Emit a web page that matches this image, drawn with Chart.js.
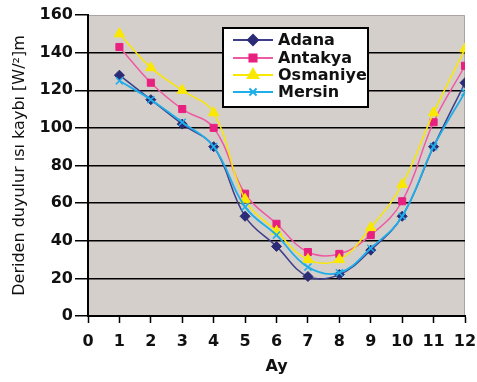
<!DOCTYPE html>
<html>
<head>
<meta charset="utf-8">
<script src="https://cdn.jsdelivr.net/npm/chart.js@4.4.0/dist/chart.umd.min.js"></script>
<style>
  html, body { margin: 0; padding: 0; background: #fff; }
  #wrap { width: 477px; height: 382px; }
</style>
</head>
<body>
<div id="wrap"><canvas id="myChart" width="477" height="382"></canvas></div>
<script>
// months and values
var months = [1, 2, 3, 4, 5, 6, 7, 8, 9, 10, 11, 12];
var adana    = [128, 115, 102, 90, 53, 37, 21, 22, 35, 53, 90, 124];
var antakya  = [143, 124, 110, 100, 65, 49, 34, 33, 43, 61, 103, 133];
var osmaniye = [150, 132, 120, 108, 62, 45, 30, 30, 47, 70, 108, 142];
var mersin   = [125, 115, 103, 90, 58, 43, 26, 23, 36, 53, 90, 119];
var seriesNames = ['Adana', 'Antakya', 'Osmaniye', 'Mersin'];

function pts(arr) {
  return months.map(function (m, i) { return {x: m, y: arr[i]}; });
}

var FONT = "'DejaVu Sans', sans-serif";

// grey plot background + light top/right border
var plotBg = {
  id: 'plotBg',
  beforeDraw: function (chart) {
    var a = chart.chartArea, ctx = chart.ctx;
    ctx.save();
    ctx.fillStyle = '#d5cfcc';
    ctx.fillRect(a.left, a.top, a.right - a.left, a.bottom - a.top);
    ctx.strokeStyle = '#a9a4a2';
    ctx.lineWidth = 1;
    ctx.beginPath();
    ctx.moveTo(a.left, a.top + 0.5);
    ctx.lineTo(a.right - 0.5, a.top + 0.5);
    ctx.lineTo(a.right - 0.5, a.bottom);
    ctx.stroke();
    ctx.restore();
  }
};

// boxed legend inside the plot
var boxLegend = {
  id: 'boxLegend',
  afterDraw: function (chart) {
    var ctx = chart.ctx;
    var bx = 223, by = 28, bw = 145, bh = 79;
    ctx.save();
    ctx.fillStyle = '#fff';
    ctx.fillRect(bx, by, bw, bh);
    ctx.strokeStyle = '#000';
    ctx.lineWidth = 2;
    ctx.strokeRect(bx, by, bw, bh);
    var rows = [40, 58, 75, 92];
    chart.data.datasets.forEach(function (ds, i) {
      var y = rows[i];
      ctx.strokeStyle = ds.borderColor;
      ctx.lineWidth = 2;
      ctx.beginPath();
      ctx.moveTo(233, y);
      ctx.lineTo(273, y);
      ctx.stroke();
      ctx.fillStyle = ds.pointBackgroundColor;
      ctx.strokeStyle = ds.pointBorderColor;
      Chart.helpers.drawPoint(ctx, {
        pointStyle: ds.pointStyle, radius: ds.pointRadius,
        rotation: 0, borderWidth: ds.pointBorderWidth
      }, 253, y);
      ctx.fillStyle = '#111';
      ctx.font = 'bold 16px ' + FONT;
      ctx.textBaseline = 'middle';
      ctx.textAlign = 'left';
      ctx.fillText(ds.label, 278, y + 1);
    });
    ctx.restore();
  }
};

new Chart('myChart', {
  type: 'line',
  data: {
    datasets: [{
      label: seriesNames[0],
      data: pts(adana),
      borderColor: '#3d3d8a',
      pointBackgroundColor: '#2b2b76',
      pointBorderColor: '#2b2b76',
      pointStyle: 'rectRot',
      pointRadius: 5,
      pointBorderWidth: 1,
      borderWidth: 1.5,
      order: 3
    }, {
      label: seriesNames[1],
      data: pts(antakya),
      borderColor: '#ee5aa2',
      pointBackgroundColor: '#e8207f',
      pointBorderColor: '#e8207f',
      pointStyle: 'rect',
      pointRadius: 5,
      pointBorderWidth: 1,
      borderWidth: 1.5,
      order: 2
    }, {
      label: seriesNames[2],
      data: pts(osmaniye),
      borderColor: '#f8e800',
      pointBackgroundColor: '#fbe800',
      pointBorderColor: '#fbe800',
      pointStyle: 'triangle',
      pointRadius: 6,
      pointBorderWidth: 1,
      borderWidth: 1.5,
      order: 1
    }, {
      label: seriesNames[3],
      data: pts(mersin),
      borderColor: '#1eaee8',
      pointBackgroundColor: '#1eaee8',
      pointBorderColor: '#1eaee8',
      pointStyle: 'crossRot',
      pointRadius: 5,
      pointBorderWidth: 1.5,
      borderWidth: 1.8,
      order: 0
    }]
  },
  options: {
    responsive: false,
    animation: false,
    layout: { padding: { top: 15, right: 12, left: 0, bottom: 0 } },
    plugins: { legend: { display: false }, tooltip: { enabled: false } },
    elements: { line: { tension: 0.4, fill: false } },
    scales: {
      x: {
        type: 'linear', min: 0, max: 12,
        afterFit: function (s) { s.height = 66; s.paddingLeft = 0; s.paddingRight = 0; },
        ticks: { stepSize: 1, color: '#111', padding: 9, maxRotation: 0,
                 font: { family: FONT, size: 16, weight: 'bold' } },
        grid: { drawOnChartArea: false, color: '#000', tickLength: 7, tickWidth: 1.5 },
        border: { color: '#000', width: 2 },
        title: { display: true, text: 'Ay', color: '#111', padding: { top: 0, bottom: 6 },
                 font: { family: FONT, size: 16, weight: 'bold' } }
      },
      y: {
        min: 0, max: 160,
        afterFit: function (s) { s.width = 88; s.paddingTop = 0; s.paddingBottom = 0; },
        ticks: { stepSize: 20, color: '#111', padding: 2,
                 font: { family: FONT, size: 16, weight: 'bold' } },
        grid: {
          color: function (c) { return c.tick && c.tick.value === 160 ? 'rgba(0,0,0,0)' : '#000'; },
          tickColor: '#000', lineWidth: 1.5, tickLength: 13
        },
        border: { color: '#000', width: 2 },
        title: { display: true, text: 'Deriden duyulur ısı kaybı [W/²]m', color: '#111',
                 padding: { top: 10, bottom: 0 },
                 font: { family: FONT, size: 16 } }
      }
    }
  },
  plugins: [plotBg, boxLegend]
});
</script>
</body>
</html>
